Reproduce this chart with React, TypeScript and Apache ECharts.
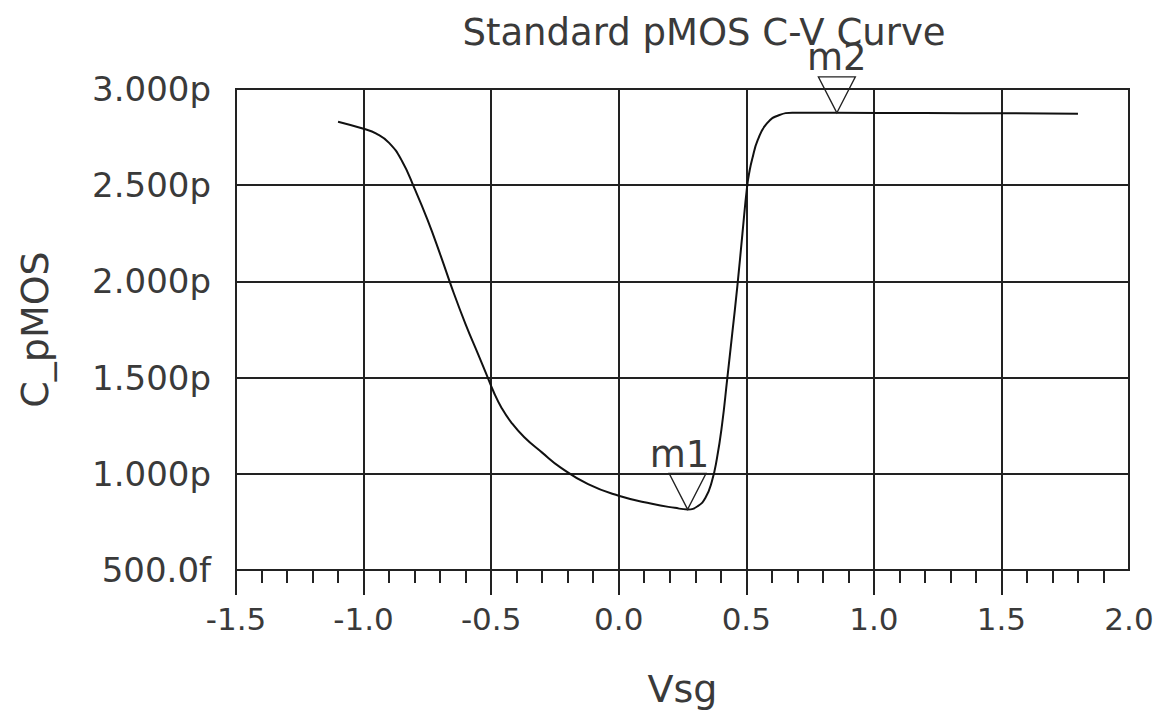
import React, { useEffect, useRef } from "react";
import * as echarts from "echarts";

// Vsg (V) and C_pMOS (pF)
const vsg = [
  -1.1, -1.0, -0.95, -0.9, -0.85, -0.8, -0.75, -0.7, -0.65, -0.6, -0.55, -0.52, -0.49, -0.46,
  -0.42, -0.37, -0.3, -0.23, -0.12, 0.0, 0.13, 0.22, 0.27, 0.31, 0.34, 0.365, 0.385, 0.405, 0.425,
  0.445, 0.465, 0.485, 0.503, 0.513, 0.523, 0.545, 0.58, 0.63, 0.68, 0.85, 1.2, 1.5, 1.8,
];
const cPmos = [
  2.83, 2.793, 2.768, 2.72, 2.627, 2.482, 2.322, 2.142, 1.952, 1.777, 1.618, 1.522, 1.425, 1.345,
  1.265, 1.19, 1.11, 1.035, 0.946, 0.886, 0.844, 0.823, 0.815, 0.832, 0.875, 0.96, 1.08, 1.255, 1.49,
  1.73, 1.975, 2.25, 2.49, 2.575, 2.635, 2.735, 2.82, 2.865, 2.876, 2.876, 2.875, 2.874, 2.872,
];

// markers
const markerNames = ["m1", "m2"];
const markerVsg = [0.27, 0.855];
const markerC = [0.815, 2.876];

// axis ticks
const xMajorTicks = [-1.5, -1.0, -0.5, 0.0, 0.5, 1.0, 1.5];
const yMajorTicks = [0.5, 1.0, 1.5, 2.0, 2.5];

const FONT = "DejaVu Sans";
const TEXT = "#3a3a3a";
const GRIDC = "#222222";

export default function App() {
  const ref = useRef<HTMLDivElement>(null);
  useEffect(() => {
    if (!ref.current) return;
    const chart = echarts.init(ref.current, undefined, { renderer: "svg" });
    chart.setOption({
      animation: false,
      backgroundColor: "#ffffff",
      title: {
        text: "Standard pMOS C-V Curve",
        left: 699,
        top: 9,
        textAlign: "center",
        textStyle: { fontFamily: FONT, fontSize: 37, fontWeight: "normal", color: TEXT },
      },
      grid: {
        left: 236,
        top: 89,
        width: 893,
        height: 482,
        show: true,
        borderColor: GRIDC,
        borderWidth: 2,
        backgroundColor: "transparent",
      },
      xAxis: {
        type: "value",
        min: -1.5,
        max: 2.0,
        interval: 0.5,
        name: "Vsg",
        nameLocation: "middle",
        nameGap: 100,
        nameTextStyle: { fontFamily: FONT, fontSize: 38, color: TEXT },
        axisLine: { show: true, lineStyle: { color: GRIDC, width: 2 } },
        axisTick: {
          show: true,
          length: 25,
          customValues: xMajorTicks,
          lineStyle: { color: GRIDC, width: 2 },
        },
        minorTick: { show: true, splitNumber: 5, length: 13, lineStyle: { color: GRIDC, width: 2 } },
        axisLabel: {
          margin: 33,
          fontFamily: FONT,
          fontSize: 31,
          color: TEXT,
          formatter: (v: number) => v.toFixed(1),
        },
        splitLine: { show: true, lineStyle: { color: GRIDC, width: 2 } },
      },
      yAxis: {
        type: "value",
        min: 0.5,
        max: 3.0,
        interval: 0.5,
        name: "C_pMOS",
        nameLocation: "middle",
        nameGap: 182,
        nameTextStyle: { fontFamily: FONT, fontSize: 38, color: TEXT },
        axisLine: { show: true, lineStyle: { color: GRIDC, width: 2 } },
        axisTick: {
          show: true,
          length: 24,
          customValues: yMajorTicks,
          lineStyle: { color: GRIDC, width: 2 },
        },
        axisLabel: {
          margin: 25,
          fontFamily: FONT,
          fontSize: 34,
          color: TEXT,
          padding: [0, 0, 6, 0],
          formatter: (v: number) => (v >= 1 ? v.toFixed(3) + "p" : (v * 1000).toFixed(1) + "f"),
        },
        splitLine: { show: true, lineStyle: { color: GRIDC, width: 2 } },
      },
      series: [
        {
          type: "line",
          data: vsg.map((v, i) => [v, cPmos[i]]),
          showSymbol: false,
          smooth: 0.5,
          lineStyle: { color: "#111", width: 2 },
          silent: true,
          markPoint: {
            silent: true,
            symbol: "triangle",
            symbolRotate: 180,
            symbolSize: [37, 36],
            symbolOffset: [0, -18],
            itemStyle: { color: "rgba(255,255,255,0)", borderColor: "#222", borderWidth: 1.3 },
            label: {
              show: true,
              position: "top",
              distance: 0,
              formatter: "{b}",
              fontFamily: FONT,
              fontSize: 37,
              color: TEXT,
            },
            data: markerNames.map((n, i) => ({
              name: n,
              coord: [markerVsg[i], markerC[i]],
              label: { offset: i === 0 ? [-8, 0] : [0, 0] },
            })),
          },
        },
      ],
    });
    return () => chart.dispose();
  }, []);
  return (
    <div
      ref={ref}
      style={{ position: "fixed", left: 0, top: 0, width: 1157, height: 713, background: "#fff" }}
    />
  );
}
